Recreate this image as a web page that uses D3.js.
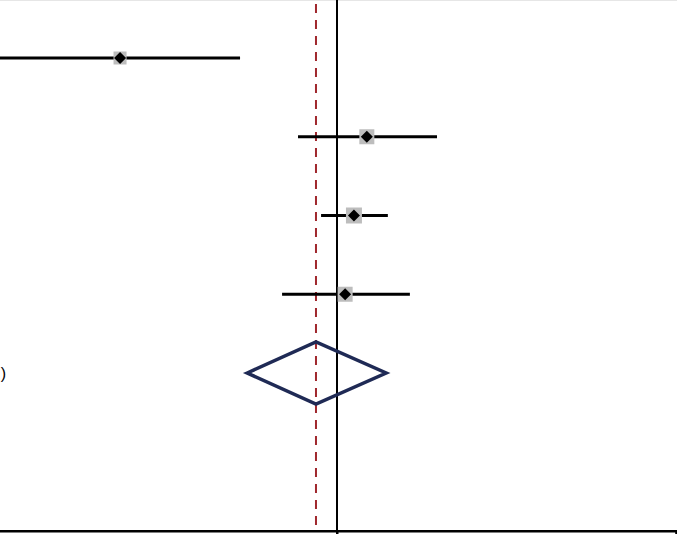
<!DOCTYPE html>
<html>
<head>
<meta charset="utf-8">
<script src="https://cdn.jsdelivr.net/npm/d3@7"></script>
<style>
html,body{margin:0;padding:0;background:#fff;overflow:hidden;}
svg{display:block;}
</style>
</head>
<body>
<div id="chart"></div>
<script>
// Data (log-scale effect estimates)
const studies = ["Study 1", "Study 2", "Study 3", "Study 4"];
const estimates = [-0.640, 0.088, 0.050, 0.024];
const lower = [-1.30, -0.115, -0.047, -0.162];
const upper = [-0.286, 0.295, 0.150, 0.215];
const weights = [13, 15, 16, 15];
const pooled = {label: "Overall (95% CI)", est: -0.062, lo: -0.265, hi: 0.145};
const xTicks = [-1, 0, 1];

const W = 677, H = 534;
const svg = d3.select("#chart").append("svg").attr("width", W).attr("height", H);

const x = d3.scaleLinear().domain([-1, 1]).range([-2, 676]);
const rows = studies.concat([pooled.label]);
const y = d3.scalePoint().domain(rows).range([58, 373]);

// faint top border
svg.append("line").attr("x1", 0).attr("x2", W).attr("y1", 0.5).attr("y2", 0.5)
  .attr("stroke", "#e6e6e6").attr("stroke-width", 1);

// pooled estimate dashed line
svg.append("line")
  .attr("x1", x(pooled.est)).attr("x2", x(pooled.est))
  .attr("y1", 4).attr("y2", 531)
  .attr("stroke", "#a0282d").attr("stroke-width", 2)
  .attr("stroke-dasharray", "9,7");

// null line
svg.append("line")
  .attr("x1", x(0)).attr("x2", x(0))
  .attr("y1", 0).attr("y2", H)
  .attr("stroke", "#000").attr("stroke-width", 2);

// axis
const axis = d3.axisBottom(x).tickValues(xTicks).tickSize(6).tickFormat("");
const ax = svg.append("g").attr("transform", "translate(0,531)").call(axis);
ax.select(".domain").attr("stroke", "#000").attr("stroke-width", 2);
ax.selectAll(".tick line").attr("stroke", "#000").attr("stroke-width", 2);
svg.append("line").attr("x1", 0).attr("x2", W).attr("y1", 531).attr("y2", 531)
  .attr("stroke", "#000").attr("stroke-width", 2);

// CIs
const g = svg.append("g");
studies.forEach((s, i) => {
  const yy = y(s);
  g.append("line")
    .attr("x1", x(lower[i])).attr("x2", x(upper[i]))
    .attr("y1", yy).attr("y2", yy)
    .attr("stroke", "#000").attr("stroke-width", 3.2);
  const w = weights[i];
  g.append("rect")
    .attr("x", x(estimates[i]) - w / 2).attr("y", yy - w / 2)
    .attr("width", w).attr("height", w)
    .attr("fill", "#bdbdbd");
  const d = 6;
  g.append("path")
    .attr("d", `M${x(estimates[i]) - d},${yy} L${x(estimates[i])},${yy - d} L${x(estimates[i]) + d},${yy} L${x(estimates[i])},${yy + d} Z`)
    .attr("fill", "#000");
});

// pooled diamond
const py = y(pooled.label);
svg.append("path")
  .attr("d", `M${x(pooled.lo)},${py} L${x(pooled.est)},${py - 31} L${x(pooled.hi)},${py} L${x(pooled.est)},${py + 31} Z`)
  .attr("fill", "none").attr("stroke", "#1f2a55").attr("stroke-width", 3.5);

// label (cut off on the left, as in the reference)
svg.append("text")
  .attr("x", 6).attr("y", py).attr("dy", "0.35em")
  .attr("text-anchor", "end")
  .attr("font-family", "Liberation Sans, Arial, sans-serif")
  .attr("font-size", 16).attr("fill", "#000")
  .text(pooled.label);
</script>
</body>
</html>
